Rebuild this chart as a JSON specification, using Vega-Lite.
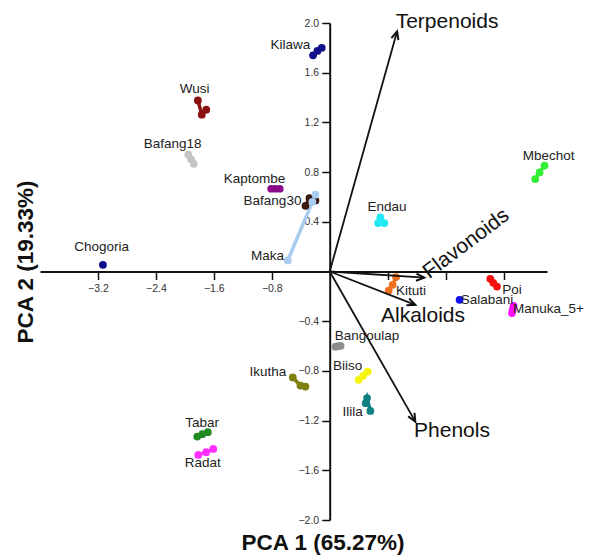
{
  "$schema": "https://vega.github.io/schema/vega-lite/v6.json",
  "autosize": {"type": "none"},
  "padding": {"left": 40, "top": 23, "right": 44, "bottom": 35},
  "width": 507,
  "height": 497,
  "background": "white",
  "config": {"view": {"stroke": null}, "axis": {"grid": false}, "font": "Liberation Sans"},
  "datasets": {
    "pts": [
      {"g": "Kilawa", "x": -0.23, "y": 1.74}, {"g": "Kilawa", "x": -0.17, "y": 1.775}, {"g": "Kilawa", "x": -0.11, "y": 1.80},
      {"g": "Wusi", "x": -1.82, "y": 1.377}, {"g": "Wusi", "x": -1.705, "y": 1.302}, {"g": "Wusi", "x": -1.766, "y": 1.262},
      {"g": "Bafang18", "x": -1.953, "y": 0.94}, {"g": "Bafang18", "x": -1.914, "y": 0.903}, {"g": "Bafang18", "x": -1.876, "y": 0.867},
      {"g": "Kaptombe", "x": -0.808, "y": 0.666}, {"g": "Kaptombe", "x": -0.749, "y": 0.666}, {"g": "Kaptombe", "x": -0.69, "y": 0.666},
      {"g": "Bafang30", "x": -0.335, "y": 0.529}, {"g": "Bafang30", "x": -0.28, "y": 0.591}, {"g": "Bafang30", "x": -0.197, "y": 0.572},
      {"g": "Chogoria", "x": -3.131, "y": 0.054},
      {"g": "Maka", "x": -0.579, "y": 0.089}, {"g": "Maka", "x": -0.239, "y": 0.561}, {"g": "Maka", "x": -0.197, "y": 0.618},
      {"g": "Endau", "x": 0.699, "y": 0.435}, {"g": "Endau", "x": 0.668, "y": 0.39}, {"g": "Endau", "x": 0.754, "y": 0.39},
      {"g": "Mbechot", "x": 2.966, "y": 0.853}, {"g": "Mbechot", "x": 2.897, "y": 0.797}, {"g": "Mbechot", "x": 2.837, "y": 0.744},
      {"g": "Kituti", "x": 0.916, "y": -0.045}, {"g": "Kituti", "x": 0.869, "y": -0.107}, {"g": "Kituti", "x": 0.814, "y": -0.153},
      {"g": "Poi", "x": 2.217, "y": -0.059}, {"g": "Poi", "x": 2.258, "y": -0.091}, {"g": "Poi", "x": 2.309, "y": -0.121},
      {"g": "Salabani", "x": 1.793, "y": -0.228},
      {"g": "Manuka_5+", "x": 2.538, "y": -0.276}, {"g": "Manuka_5+", "x": 2.527, "y": -0.306}, {"g": "Manuka_5+", "x": 2.516, "y": -0.335},
      {"g": "Bangoulap", "x": 0.08, "y": -0.605}, {"g": "Bangoulap", "x": 0.115, "y": -0.601}, {"g": "Bangoulap", "x": 0.15, "y": -0.598},
      {"g": "Biiso", "x": 0.524, "y": -0.805}, {"g": "Biiso", "x": 0.461, "y": -0.84}, {"g": "Biiso", "x": 0.4, "y": -0.872},
      {"g": "Ilila", "x": 0.516, "y": -1.019}, {"g": "Ilila", "x": 0.497, "y": -1.06}, {"g": "Ilila", "x": 0.561, "y": -1.122},
      {"g": "Ikutha", "x": -0.51, "y": -0.853}, {"g": "Ikutha", "x": -0.404, "y": -0.918}, {"g": "Ikutha", "x": -0.335, "y": -0.926},
      {"g": "Tabar", "x": -1.829, "y": -1.328}, {"g": "Tabar", "x": -1.76, "y": -1.309}, {"g": "Tabar", "x": -1.683, "y": -1.293},
      {"g": "Radat", "x": -1.815, "y": -1.476}, {"g": "Radat", "x": -1.705, "y": -1.454}, {"g": "Radat", "x": -1.608, "y": -1.428}
    ],
    "labels": [
      {"name": "Kilawa", "x": -0.542, "y": 1.825},
      {"name": "Wusi", "x": -1.866, "y": 1.471},
      {"name": "Bafang18", "x": -2.17, "y": 1.028},
      {"name": "Kaptombe", "x": -1.039, "y": 0.746},
      {"name": "Bafang30", "x": -0.79, "y": 0.569},
      {"name": "Chogoria", "x": -3.149, "y": 0.199},
      {"name": "Maka", "x": -0.859, "y": 0.126},
      {"name": "Endau", "x": 0.792, "y": 0.523},
      {"name": "Mbechot", "x": 3.021, "y": 0.926},
      {"name": "Kituti", "x": 1.123, "y": -0.153},
      {"name": "Poi", "x": 2.516, "y": -0.147},
      {"name": "Salabani", "x": 2.171, "y": -0.233},
      {"name": "Manuka_5+", "x": 3.021, "y": -0.303},
      {"name": "Bangoulap", "x": 0.516, "y": -0.523},
      {"name": "Biiso", "x": 0.248, "y": -0.759},
      {"name": "Ilila", "x": 0.317, "y": -1.127},
      {"name": "Ikutha", "x": -0.855, "y": -0.81},
      {"name": "Tabar", "x": -1.76, "y": -1.221},
      {"name": "Radat", "x": -1.752, "y": -1.543}
    ],
    "arrows": [
      {"name": "Terpenoids", "x0": 0, "y0": 0, "x": 0.93, "y": 1.932, "lx": 1.62, "ly": 2.01},
      {"name": "Flavonoids", "x0": 0, "y0": 0, "x": 1.306, "y": -0.05, "lx": 1.886, "ly": 0.223},
      {"name": "Alkaloids", "x0": 0, "y0": 0, "x": 1.182, "y": -0.268, "lx": 1.288, "ly": -0.362},
      {"name": "Phenols", "x0": 0, "y0": 0, "x": 1.182, "y": -1.208, "lx": 1.688, "ly": -1.283}
    ]
  },
  "layer": [
    {
      "data": {"name": "pts"},
      "mark": {"type": "line", "strokeWidth": 3.5, "strokeCap": "round"},
      "encoding": {
        "x": {"field": "x", "type": "quantitative", "scale": {"domain": [-4, 3], "nice": false, "zero": false},
          "axis": {"orient": "bottom", "offset": -248.5, "domainColor": "#111", "domainWidth": 2, "tickColor": "#111", "tickWidth": 1.5, "tickSize": 8,
            "values": [-3.2, -2.4, -1.6, -0.8, 0.8, 1.6, 2.4],
            "labelExpr": "datum.value < 0 ? format(datum.value, '.1f') : ''",
            "labelFontSize": 10.5, "labelColor": "#333", "labelPadding": 4,
            "title": "PCA 1 (65.27%)", "titleFontSize": 22.5, "titleFontWeight": "bold", "titleColor": "#111",
            "titleBaseline": "middle", "titleAlign": "center", "titleAnchor": "start", "titleX": 282.5, "titleY": 271}},
        "y": {"field": "y", "type": "quantitative", "scale": {"domain": [-2, 2], "nice": false, "zero": false},
          "axis": {"orient": "left", "offset": -289.7, "domainColor": "#111", "domainWidth": 2, "tickColor": "#111", "tickWidth": 1.5, "tickSize": 8,
            "values": [-2, -1.6, -1.2, -0.8, -0.4, 0.4, 0.8, 1.2, 1.6, 2],
            "format": ".1f", "labelFontSize": 10.5, "labelColor": "#333", "labelPadding": 3,
            "title": "PCA 2 (19.33%)", "titleFontSize": 22.5, "titleFontWeight": "bold", "titleColor": "#111",
            "titleBaseline": "middle", "titleAlign": "center", "titleAnchor": "start", "titleAngle": -90, "titleX": -304.5, "titleY": 238.5}},
        "color": {"field": "g", "type": "nominal", "legend": null,
          "scale": {"domain": ["Kilawa", "Wusi", "Bafang18", "Kaptombe", "Bafang30", "Chogoria", "Maka", "Endau", "Mbechot", "Kituti", "Poi", "Salabani", "Manuka_5+", "Bangoulap", "Biiso", "Ilila", "Ikutha", "Tabar", "Radat"],
            "range": ["#10108a", "#8b1010", "#c4c4c4", "#8a0a8a", "#3a1a10", "#0a0a8a", "#a8cdf0", "#22e8f5", "#33ee33", "#f07020", "#f51010", "#1010f0", "#ff10ff", "#8c8c8c", "#f5f510", "#108080", "#808010", "#208a20", "#ff30ff"]}}
      }
    },
    {
      "data": {"name": "pts"},
      "mark": {"type": "circle", "size": 60, "opacity": 1},
      "encoding": {
        "x": {"field": "x", "type": "quantitative"},
        "y": {"field": "y", "type": "quantitative"},
        "color": {"field": "g", "type": "nominal", "legend": null}
      }
    },
    {
      "data": {"name": "labels"},
      "mark": {"type": "text", "fontSize": 13.5, "color": "#222", "align": "center", "baseline": "middle", "font": "Liberation Sans"},
      "encoding": {
        "x": {"field": "x", "type": "quantitative"},
        "y": {"field": "y", "type": "quantitative"},
        "text": {"field": "name"}
      }
    },
    {
      "data": {"name": "arrows"},
      "mark": {"type": "rule", "color": "#111", "strokeWidth": 1.8},
      "encoding": {
        "x": {"field": "x0", "type": "quantitative"},
        "y": {"field": "y0", "type": "quantitative"},
        "x2": {"field": "x"},
        "y2": {"field": "y"}
      }
    },
    {
      "data": {"name": "arrows"},
      "transform": [{"calculate": "atan2(datum.x * 72.43, datum.y * 124.25) * 180 / PI", "as": "ang"}],
      "mark": {"type": "point", "shape": "M-0.45,1 L0,0 L0.45,1", "filled": false, "size": 260, "strokeWidth": 2, "color": "#111", "opacity": 1},
      "encoding": {
        "x": {"field": "x", "type": "quantitative"},
        "y": {"field": "y", "type": "quantitative"},
        "angle": {"field": "ang", "type": "quantitative", "scale": null}
      }
    },
    {
      "data": {"name": "arrows"},
      "transform": [{"filter": "datum.name != 'Flavonoids'"}],
      "mark": {"type": "text", "fontSize": 21, "color": "#111", "align": "center", "baseline": "middle", "font": "Liberation Sans"},
      "encoding": {
        "x": {"field": "lx", "type": "quantitative"},
        "y": {"field": "ly", "type": "quantitative"},
        "text": {"field": "name"}
      }
    },
    {
      "data": {"name": "arrows"},
      "transform": [{"filter": "datum.name == 'Flavonoids'"}],
      "mark": {"type": "text", "fontSize": 21, "color": "#111", "align": "center", "baseline": "middle", "angle": -37, "font": "Liberation Sans"},
      "encoding": {
        "x": {"field": "lx", "type": "quantitative"},
        "y": {"field": "ly", "type": "quantitative"},
        "text": {"field": "name"}
      }
    }
  ]
}
